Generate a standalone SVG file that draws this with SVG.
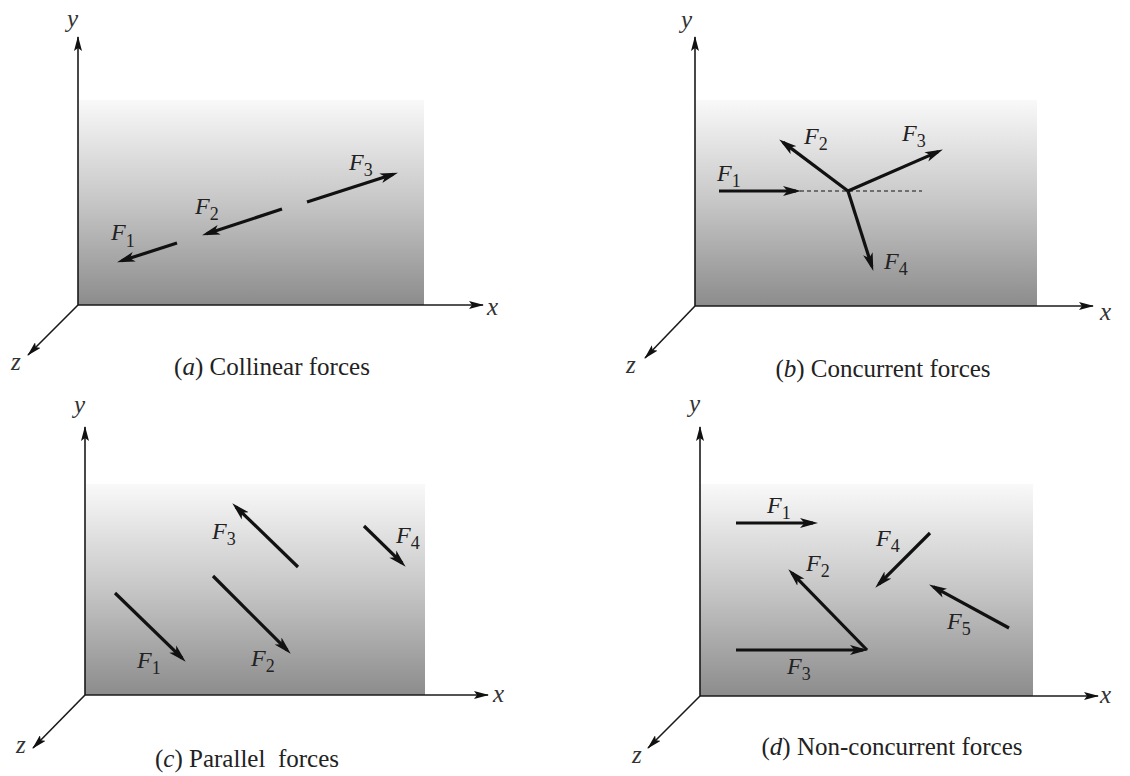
<svg xmlns="http://www.w3.org/2000/svg" width="1130" height="776" viewBox="0 0 1130 776">
<defs>
<linearGradient id="g" x1="0" y1="0" x2="0" y2="1">
<stop offset="0" stop-color="#f9f9f9"/>
<stop offset="0.5" stop-color="#c6c6c6"/>
<stop offset="1" stop-color="#8c8c8c"/>
</linearGradient>
<marker id="ah" markerUnits="userSpaceOnUse" viewBox="0 0 18 11" markerWidth="18" markerHeight="11" refX="13" refY="5.5" orient="auto">
<path d="M0,0.5 L18,5.5 L0,10.5 L4.5,5.5 z" fill="#111"/>
</marker>
<marker id="ax" markerUnits="userSpaceOnUse" viewBox="0 0 15 8" markerWidth="15" markerHeight="8" refX="14" refY="4" orient="auto">
<path d="M0,0 L15,4 L0,8 L3,4 z" fill="#111"/>
</marker>
</defs>
<style>
.plate{fill:url(#g)}
.axis{stroke:#1a1a1a;stroke-width:1.6;fill:none;marker-end:url(#ax)}
.f{stroke:#111;stroke-width:3.2;fill:none;marker-end:url(#ah)}
.dash{stroke:#111;stroke-width:1.2;stroke-dasharray:4 3;fill:none}
text{font-family:'Liberation Serif','Times New Roman','DejaVu Serif',serif}
.al{font-style:italic;font-size:25px;fill:#333}
.fl{font-style:italic;font-size:24px;fill:#222}
.sub{font-style:normal;font-size:18px}
.cap{font-size:25px;fill:#222;text-anchor:middle;white-space:pre}
.it{font-style:italic}
</style>

<g id="panel-a">
<rect class="plate" x="78" y="100" width="346" height="205"/>
<g id="axes-a">
<line class="axis" x1="78" y1="305" x2="78" y2="37"/>
<line class="axis" x1="78" y1="305" x2="483" y2="305"/>
<line class="axis" x1="78" y1="305" x2="28" y2="355"/>
<text class="al" x="67" y="27">y</text>
<text class="al" x="487" y="315">x</text>
<text class="al" x="11" y="370">z</text>
</g>
<g id="connectors-a">
<line class="f" x1="177" y1="243" x2="121.8" y2="260.8"/>
<line class="f" x1="282" y1="209" x2="206.8" y2="233.8"/>
<line class="f" x1="307" y1="202" x2="393.2" y2="174.2"/>
</g>
<g id="a-F1"><text class="fl" x="111" y="240">F<tspan class="sub" dy="7">1</tspan></text></g>
<g id="a-F2"><text class="fl" x="195" y="214">F<tspan class="sub" dy="6">2</tspan></text></g>
<g id="a-F3"><text class="fl" x="349" y="170">F<tspan class="sub" dy="6">3</tspan></text></g>
<text class="cap" x="272" y="375">(<tspan class="it">a</tspan>) Collinear forces</text>
</g>

<g id="panel-b">
<rect class="plate" x="695" y="100" width="342" height="206"/>
<g id="axes-b">
<line class="axis" x1="695" y1="306" x2="695" y2="37"/>
<line class="axis" x1="695" y1="306" x2="1093" y2="306"/>
<line class="axis" x1="695" y1="306" x2="645" y2="358"/>
<text class="al" x="681" y="28">y</text>
<text class="al" x="1100" y="320">x</text>
<text class="al" x="626" y="373">z</text>
</g>
<g id="connectors-b">
<line class="dash" x1="800" y1="191" x2="922" y2="191"/>
<line class="f" x1="719" y1="191" x2="796" y2="191"/>
<line class="f" x1="848" y1="191" x2="783.2" y2="142.4"/>
<line class="f" x1="848" y1="191" x2="938.3" y2="151.6"/>
<line class="f" x1="848" y1="191" x2="871.8" y2="266.2"/>
</g>
<g id="b-F1"><text class="fl" x="717" y="181">F<tspan class="sub" dy="6">1</tspan></text></g>
<g id="b-F2"><text class="fl" x="804" y="144">F<tspan class="sub" dy="6">2</tspan></text></g>
<g id="b-F3"><text class="fl" x="902" y="141">F<tspan class="sub" dy="6">3</tspan></text></g>
<g id="b-F4"><text class="fl" x="884" y="269">F<tspan class="sub" dy="6">4</tspan></text></g>
<text class="cap" x="883" y="377">(<tspan class="it">b</tspan>) Concurrent forces</text>
</g>

<g id="panel-c">
<rect class="plate" x="85" y="484" width="340" height="211"/>
<g id="axes-c">
<line class="axis" x1="85" y1="695" x2="85" y2="427"/>
<line class="axis" x1="85" y1="695" x2="488" y2="695"/>
<line class="axis" x1="85" y1="695" x2="33" y2="748"/>
<text class="al" x="74" y="413">y</text>
<text class="al" x="493" y="702">x</text>
<text class="al" x="16" y="753">z</text>
</g>
<g id="connectors-c">
<line class="f" x1="115" y1="593" x2="182.1" y2="658.2"/>
<line class="f" x1="213" y1="576" x2="287.2" y2="650.2"/>
<line class="f" x1="298" y1="567" x2="235.9" y2="506.8"/>
<line class="f" x1="364" y1="526" x2="402.1" y2="563.2"/>
</g>
<g id="c-F1"><text class="fl" x="137" y="668">F<tspan class="sub" dy="6">1</tspan></text></g>
<g id="c-F2"><text class="fl" x="251" y="666">F<tspan class="sub" dy="6">2</tspan></text></g>
<g id="c-F3"><text class="fl" x="212" y="539">F<tspan class="sub" dy="6">3</tspan></text></g>
<g id="c-F4"><text class="fl" x="396" y="543">F<tspan class="sub" dy="6">4</tspan></text></g>
<text class="cap" x="247" y="767">(<tspan class="it">c</tspan>) Parallel  forces</text>
</g>

<g id="panel-d">
<rect class="plate" x="700" y="484" width="333" height="212"/>
<g id="axes-d">
<line class="axis" x1="700" y1="696" x2="700" y2="427"/>
<line class="axis" x1="700" y1="696" x2="1098" y2="696"/>
<line class="axis" x1="700" y1="696" x2="648" y2="748"/>
<text class="al" x="689" y="412">y</text>
<text class="al" x="1100" y="703">x</text>
<text class="al" x="632" y="763">z</text>
</g>
<g id="connectors-d">
<line class="f" x1="736" y1="523" x2="813" y2="523"/>
<line class="f" x1="736" y1="650" x2="863" y2="650"/>
<line class="f" x1="867" y1="650" x2="791.8" y2="572.9"/>
<line class="f" x1="930" y1="533" x2="878.8" y2="584.2"/>
<line class="f" x1="1009" y1="628" x2="933.5" y2="586.9"/>
</g>
<g id="d-F1"><text class="fl" x="767" y="513">F<tspan class="sub" dy="6">1</tspan></text></g>
<g id="d-F2"><text class="fl" x="806" y="571">F<tspan class="sub" dy="6">2</tspan></text></g>
<g id="d-F3"><text class="fl" x="787" y="674">F<tspan class="sub" dy="6">3</tspan></text></g>
<g id="d-F4"><text class="fl" x="876" y="546">F<tspan class="sub" dy="6">4</tspan></text></g>
<g id="d-F5"><text class="fl" x="947" y="629">F<tspan class="sub" dy="6">5</tspan></text></g>
<text class="cap" x="892" y="755">(<tspan class="it">d</tspan>) Non-concurrent forces</text>
</g>
</svg>
